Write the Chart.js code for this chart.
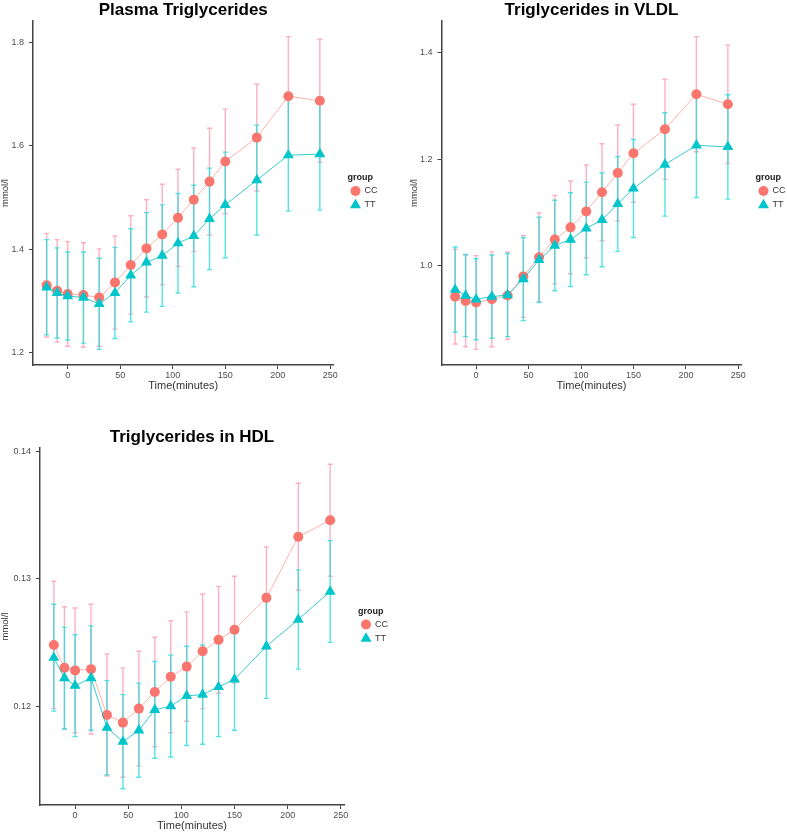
<!DOCTYPE html>
<html>
<head>
<meta charset="utf-8">
<script src="https://cdn.jsdelivr.net/npm/chart.js@4.4.1/dist/chart.umd.min.js"></script>
<style>
body { margin: 0; background: #fff; width: 787px; height: 835px; position: relative; overflow: hidden; }
canvas { position: absolute; }
</style>
</head>
<body>
<canvas id="plasma" width="395" height="395" style="left:0px;top:0px"></canvas>
<canvas id="vldl" width="378" height="395" style="left:409px;top:0px"></canvas>
<canvas id="hdl" width="400" height="408" style="left:0px;top:427px"></canvas>
<script>
// sampling times (minutes)
var times = [-20, -10, 0, 15, 30, 45, 60, 75, 90, 105, 120, 135, 150, 180, 210, 240];
var timeTicks = [0, 50, 100, 150, 200, 250];

// plasma triglycerides, mean and SE
var plasmaCC   = [1.331, 1.320, 1.314, 1.312, 1.307, 1.336, 1.370, 1.402, 1.429, 1.461, 1.496, 1.531, 1.570, 1.616, 1.696, 1.687];
var plasmaCCse = [0.100, 0.099, 0.101, 0.101, 0.094, 0.090, 0.095, 0.094, 0.097, 0.094, 0.100, 0.103, 0.101, 0.103, 0.115, 0.119];
var plasmaTT   = [1.327, 1.316, 1.310, 1.307, 1.295, 1.316, 1.350, 1.375, 1.388, 1.412, 1.426, 1.459, 1.486, 1.534, 1.582, 1.584];
var plasmaTTse = [0.092, 0.087, 0.085, 0.088, 0.088, 0.088, 0.090, 0.096, 0.098, 0.096, 0.098, 0.098, 0.102, 0.106, 0.108, 0.108];
var plasmaTicks = [1.2, 1.4, 1.6, 1.8];

// VLDL
var vldlCC   = [0.942, 0.934, 0.931, 0.937, 0.944, 0.980, 1.016, 1.049, 1.072, 1.102, 1.138, 1.174, 1.211, 1.256, 1.322, 1.303];
var vldlCCse = [0.089, 0.086, 0.088, 0.089, 0.082, 0.077, 0.083, 0.083, 0.087, 0.087, 0.091, 0.090, 0.092, 0.094, 0.108, 0.111];
var vldlTT   = [0.955, 0.944, 0.937, 0.942, 0.945, 0.975, 1.011, 1.038, 1.049, 1.070, 1.086, 1.116, 1.145, 1.190, 1.226, 1.223];
var vldlTTse = [0.080, 0.077, 0.076, 0.078, 0.078, 0.078, 0.080, 0.085, 0.088, 0.087, 0.088, 0.089, 0.092, 0.097, 0.098, 0.098];
var vldlTicks = [1.0, 1.2, 1.4];

// HDL
var hdlCC   = [0.1248, 0.1230, 0.1228, 0.1229, 0.1193, 0.1187, 0.1198, 0.1211, 0.1223, 0.1231, 0.1243, 0.1252, 0.1260, 0.1285, 0.1333, 0.1346];
var hdlCCse = [0.0050, 0.0048, 0.0049, 0.0051, 0.0048, 0.0043, 0.0045, 0.0043, 0.0044, 0.0043, 0.0045, 0.0042, 0.0042, 0.0040, 0.0042, 0.0044];
var hdlTT   = [0.1238, 0.1222, 0.1216, 0.1222, 0.1183, 0.1172, 0.1181, 0.1197, 0.1200, 0.1208, 0.1209, 0.1215, 0.1221, 0.1247, 0.1268, 0.1290];
var hdlTTse = [0.0042, 0.0040, 0.0040, 0.0041, 0.0037, 0.0037, 0.0037, 0.0038, 0.0040, 0.0039, 0.0039, 0.0039, 0.0040, 0.0041, 0.0039, 0.0040];
var hdlTicks = [0.12, 0.13, 0.14];

var ccColor = '#F8766D';
var ttColor = '#00C5CA';

Chart.defaults.font.family = '"Liberation Sans", Arial, sans-serif';

// ggplot style 5% padding
function expand(lo, hi) {
  var d = (hi - lo) * 0.05;
  return [lo - d, hi + d];
}

var errorBars = {
  id: 'errorBars',
  beforeDatasetsDraw: function(chart) {
    var ctx = chart.ctx, xs = chart.scales.x, ys = chart.scales.y;
    ctx.save();
    chart.data.datasets.forEach(function(ds) {
      ctx.strokeStyle = ds.errColor;
      ctx.lineWidth = 1.4;
      ds.data.forEach(function(p, j) {
        var x = xs.getPixelForValue(p.x);
        var yt = ys.getPixelForValue(p.y + ds.se[j]);
        var yb = ys.getPixelForValue(p.y - ds.se[j]);
        ctx.beginPath();
        ctx.moveTo(x, yt); ctx.lineTo(x, yb);
        ctx.moveTo(x - 2.5, yt); ctx.lineTo(x + 2.5, yt);
        ctx.moveTo(x - 2.5, yb); ctx.lineTo(x + 2.5, yb);
        ctx.stroke();
      });
    });
    ctx.restore();
  }
};

// title centred over the panel, like ggplot
var panelTitle = {
  id: 'panelTitle',
  afterDraw: function(chart, args, opts) {
    var a = chart.chartArea, ctx = chart.ctx;
    ctx.save();
    ctx.fillStyle = '#000';
    ctx.font = 'bold 17px "Liberation Sans"';
    ctx.textAlign = 'center';
    ctx.textBaseline = 'middle';
    ctx.fillText(opts.text, (a.left + a.right) / 2, 10.5);
    ctx.restore();
  }
};

var groupLegend = {
  id: 'groupLegend',
  afterDraw: function(chart) {
    var a = chart.chartArea, ctx = chart.ctx;
    var x = a.right + 14, cy = (a.top + a.bottom) / 2;
    ctx.save();
    ctx.textBaseline = 'middle';
    ctx.textAlign = 'left';
    ctx.fillStyle = '#222';
    ctx.font = 'bold 9px "Liberation Sans"';
    ctx.fillText('group', x, cy - 15);
    chart.data.datasets.forEach(function(ds, i) {
      var y = cy - 2 + i * 14, px = x + 8;
      ctx.fillStyle = ds.pointBackgroundColor;
      ctx.beginPath();
      if (ds.pointStyle === 'triangle') {
        ctx.moveTo(px, y - 6.3);
        ctx.lineTo(px + 5.5, y + 3.2);
        ctx.lineTo(px - 5.5, y + 3.2);
        ctx.closePath();
      } else {
        ctx.arc(px, y, 5, 0, Math.PI * 2);
      }
      ctx.fill();
      ctx.fillStyle = '#333';
      ctx.font = '9px "Liberation Sans"';
      ctx.fillText(ds.label, x + 17, y);
    });
    ctx.restore();
  }
};

function panel(id, title, cc, ccSe, tt, ttSe, yTicks, dec, yWidth, padRight) {
  var lows = cc.map(function(v, i) { return v - ccSe[i]; }).concat(tt.map(function(v, i) { return v - ttSe[i]; }));
  var highs = cc.map(function(v, i) { return v + ccSe[i]; }).concat(tt.map(function(v, i) { return v + ttSe[i]; }));
  var yr = expand(Math.min.apply(null, lows), Math.max.apply(null, highs));
  var xr = expand(times[0], times[times.length - 1]);

  new Chart(document.getElementById(id), {
    type: 'line',
    data: {
      datasets: [
        {
          label: 'CC',
          data: times.map(function(t, i) { return {x: t, y: cc[i]}; }),
          se: ccSe,
          errColor: 'rgba(250,125,155,0.6)',
          borderColor: 'rgba(248,118,109,0.55)',
          borderWidth: 1,
          pointStyle: 'circle',
          pointRadius: 5,
          pointBackgroundColor: ccColor,
          pointBorderWidth: 0,
          order: 2
        },
        {
          label: 'TT',
          data: times.map(function(t, i) { return {x: t, y: tt[i]}; }),
          se: ttSe,
          errColor: 'rgba(40,220,220,0.8)',
          borderColor: 'rgba(0,191,196,0.8)',
          borderWidth: 1,
          pointStyle: 'triangle',
          pointRadius: 6.3,
          pointBackgroundColor: ttColor,
          pointBorderWidth: 0,
          order: 1
        }
      ]
    },
    options: {
      responsive: false,
      animation: false,
      layout: {padding: {top: 21, right: padRight}},
      plugins: {
        legend: {display: false},
        tooltip: {enabled: false},
        title: {display: false},
        panelTitle: {text: title}
      },
      scales: {
        x: {
          type: 'linear', min: xr[0], max: xr[1],
          afterBuildTicks: function(s) { s.ticks = timeTicks.map(function(v) { return {value: v}; }); },
          afterFit: function(s) { s.height = 30; },
          grid: {drawOnChartArea: false, drawTicks: true, tickLength: 4, color: '#444'},
          border: {color: '#444', width: 1.5},
          ticks: {color: '#4d4d4d', font: {size: 9}, padding: 1, maxRotation: 0},
          title: {display: true, text: 'Time(minutes)', color: '#333', font: {size: 11}, padding: {top: 0, bottom: 2.5}}
        },
        y: {
          type: 'linear', min: yr[0], max: yr[1],
          afterBuildTicks: function(s) { s.ticks = yTicks.map(function(v) { return {value: v}; }); },
          afterFit: function(s) { s.width = yWidth; },
          grid: {drawOnChartArea: false, drawTicks: true, tickLength: 4, color: '#444'},
          border: {color: '#444', width: 1.5},
          ticks: {color: '#4d4d4d', font: {size: 9}, padding: 5, callback: function(v) { return v.toFixed(dec); }},
          title: {display: true, text: 'mmol/l', color: '#333', font: {size: 9.5}, padding: {top: 0, bottom: 0}}
        }
      }
    },
    plugins: [errorBars, panelTitle, groupLegend]
  });
}

panel('plasma', 'Plasma Triglycerides', plasmaCC, plasmaCCse, plasmaTT, plasmaTTse, plasmaTicks, 1, 33, 61.5);
panel('vldl', 'Triglycerides in VLDL', vldlCC, vldlCCse, vldlTT, vldlTTse, vldlTicks, 1, 32.5, 45.5);
panel('hdl', 'Triglycerides in HDL', hdlCC, hdlCCse, hdlTT, hdlTTse, hdlTicks, 2, 40, 56);
</script>
</body>
</html>
